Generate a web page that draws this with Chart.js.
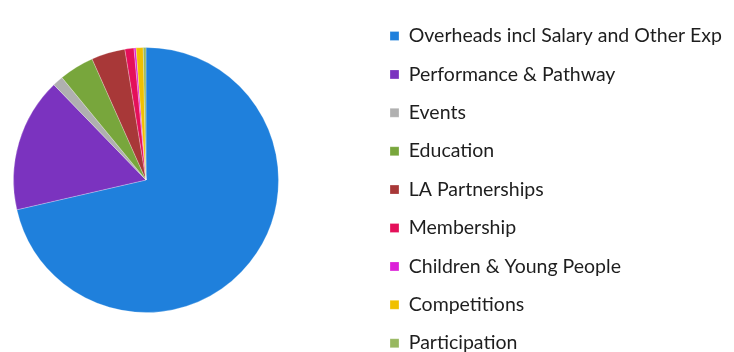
<!DOCTYPE html>
<html><head><meta charset="utf-8">
<script src="https://cdn.jsdelivr.net/npm/chart.js@4/dist/chart.umd.min.js"></script>
<style>
html,body{margin:0;padding:0;background:#fff;overflow:hidden;width:734px;height:352px}
#wrap{width:734px;height:352px;overflow:hidden;position:relative}
canvas{display:block}
</style></head><body>
<div id="wrap"><canvas id="c" width="734" height="400"></canvas></div>
<script>
const categories = [
  'Overheads incl Salary and Other Exp',
  'Performance & Pathway',
  'Events',
  'Education',
  'LA Partnerships',
  'Membership',
  'Children & Young People',
  'Competitions',
  'Participation'
];
const sharePercent = [71.1, 16.3, 1.3, 4.25, 4.1, 1.1, 0.25, 0.86, 0.33];
const sliceColours = ['#1f80dc', '#7b33bf', '#b0b0b0', '#78a63c', '#a83838', '#e4105a', '#dc20d8', '#f0c000', '#98b860'];

const FONT_SIZE = 19.5;
const ROW_STEP = 38.4;
const PAD = ROW_STEP - FONT_SIZE;

const placeParts = {
  id: 'placeParts',
  afterLayout(chart) {
    const cx = 146, cy = 180, r = 133;
    chart.chartArea = {left: cx - r, top: cy - r, right: cx + r, bottom: cy + r, width: 2 * r, height: 2 * r};
    const lg = chart.legend;
    const w = lg.width, h = lg.height;
    lg.left = 390 - PAD; lg.right = lg.left + w;
    lg.top = 36 - FONT_SIZE / 2 - PAD; lg.bottom = lg.top + h;
  }
};

new Chart(document.getElementById('c'), {
  type: 'pie',
  data: {
    labels: categories,
    datasets: [{
      data: sharePercent,
      backgroundColor: sliceColours,
      borderColor: 'rgba(255,255,255,0.25)',
      borderWidth: 1
    }]
  },
  options: {
    responsive: false,
    animation: false,
    devicePixelRatio: 1,
    layout: {padding: 0},
    plugins: {
      legend: {
        position: 'right',
        align: 'start',
        labels: {
          boxWidth: 9,
          boxHeight: 9,
          padding: PAD,
          color: '#1e1e1e',
          font: {family: 'Lato', size: FONT_SIZE}
        }
      },
      tooltip: {enabled: false}
    }
  },
  plugins: [placeParts]
});
</script>
</body></html>
